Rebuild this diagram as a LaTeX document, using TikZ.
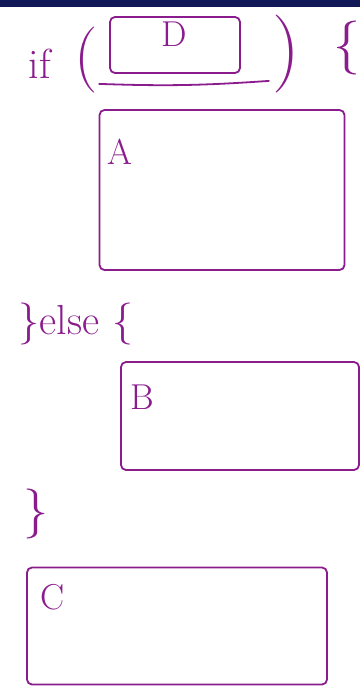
\documentclass[tikz,border=0pt]{standalone}
\usetikzlibrary{positioning}
\definecolor{pen}{RGB}{138,28,142}
\definecolor{topbar}{RGB}{16,24,88}
\begin{document}
\begin{tikzpicture}[x=1pt,y=-1pt,
every node/.style={text=pen, inner sep=0pt},
box/.style={draw=pen, line width=1.8pt, rounded corners=5pt},
word/.style={font=\fontsize{42}{42}\selectfont},
letter/.style={font=\fontsize{36}{36}\selectfont}
]
\useasboundingbox (0,0) rectangle (360,690);
\fill[topbar] (0,0) rectangle (360,7);
% if ( D ) {
\node[word] (iftext) at (40,64) {if};
\node[font=\fontsize{66}{66}\selectfont] (lparen) at (86,60) {(};
\node[box, minimum width=130pt, minimum height=56pt] (Dbox) at (175,45) {};
\node[letter, below right=6pt and 52pt of Dbox.north west] (D) {D};
\draw[pen, line width=1.8pt, line cap=round] ([xshift=-10pt,yshift=-10pt]Dbox.south west) to[bend right=3] ([xshift=28pt,yshift=-7pt]Dbox.south east);
\node[font=\fontsize{78}{78}\selectfont] (rparen) at (286,54) {)};
\node[font=\fontsize{54}{54}\selectfont] (lbrace) at (347,48) {\{};
% A
\node[box, minimum width=245pt, minimum height=160pt] (Abox) at (222,190) {};
\node[letter, below right=30pt and 9pt of Abox.north west] (A) {A};
% else
\node[word] (elsetext) at (76,324) {\}else \{};
\node[box, minimum width=238pt, minimum height=108pt] (Bbox) at (240,416) {};
\node[letter, below right=24pt and 10pt of Bbox.north west] (B) {B};
\node[font=\fontsize{50}{50}\selectfont] (rbrace) at (36,514) {\}};
% C
\node[box, minimum width=300pt, minimum height=117pt] (Cbox) at (177,626) {};
\node[letter, below right=18pt and 14pt of Cbox.north west] (C) {C};
\end{tikzpicture}
\end{document}
